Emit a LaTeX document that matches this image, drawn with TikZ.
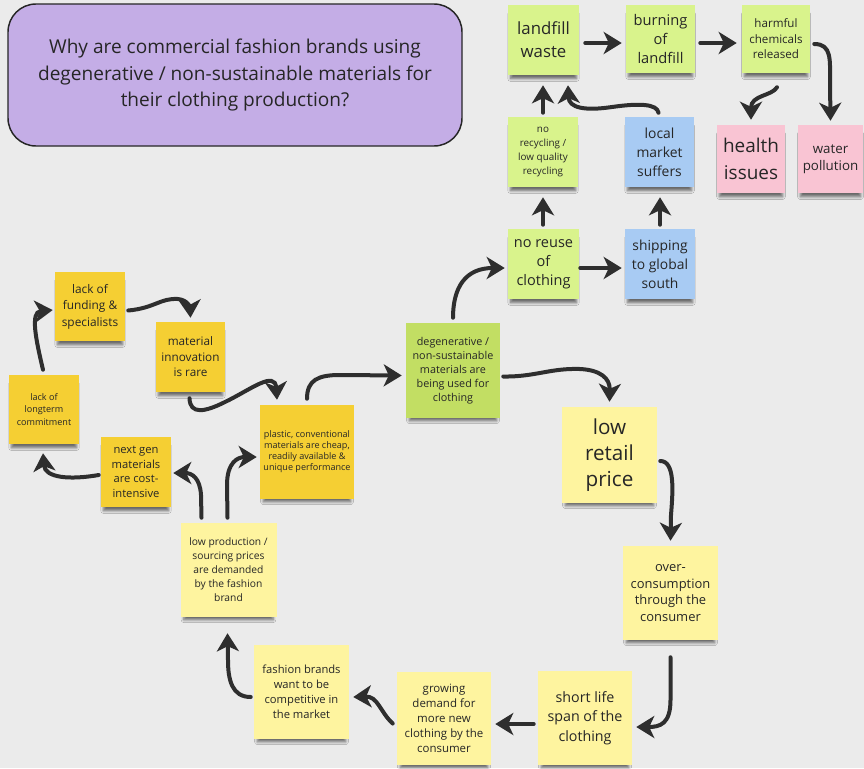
\documentclass[tikz,border=0pt]{standalone}
\usepackage{fontspec}
\setmainfont{Open Sans}
\usetikzlibrary{arrows.meta,calc,shadows.blur}

\definecolor{bgc}{HTML}{EBEBEB}
\definecolor{inkc}{HTML}{262626}
\definecolor{arrowc}{HTML}{2E2E2E}
\definecolor{lavender}{HTML}{C4ADE6}
\definecolor{mustard}{HTML}{F5CF33}
\definecolor{paleyel}{HTML}{FEF49F}
\definecolor{limeg}{HTML}{D9F38C}
\definecolor{oliveg}{HTML}{C2DE63}
\definecolor{skyb}{HTML}{A8CBF3}
\definecolor{rosep}{HTML}{F9C4D3}

\tikzset{
  note/.style={align=center, text=inkc, inner sep=0pt,
    blur shadow={shadow xshift=0pt, shadow yshift=-5pt, shadow opacity=55,
      shadow blur steps=6, shadow scale=0.93}},
  sz/.style 2 args={minimum width=#1*0.75pt, minimum height=#2*0.75pt},
  fs/.style 2 args={font=\fontsize{#1}{#2}\selectfont},
  arr/.style={draw=arrowc, line width=3pt, line cap=round,
    -{Stealth[length=13.5pt,width=16.5pt,inset=3.8pt]}},
  titlebox/.style={draw=inkc, line width=1.1pt, fill=lavender,
    rounded corners=21pt, align=center, text=inkc, inner sep=0pt},
}

\begin{document}
\begin{tikzpicture}[x=0.75pt, y=-0.75pt]
\fill[bgc] (0,0) rectangle (864,768);
\useasboundingbox (0,0) rectangle (864,768);

% question box
\node[titlebox, sz={454}{142}, fs={14.3}{19.9}] (q) at (235,75)
  {Why are commercial fashion brands using\\degenerative / non-sustainable materials for\\their clothing production?};

% consequences (top right)
\node[note, fill=limeg, sz={71}{70}, fs={12.6}{17.3}] (lw) at (543.5,40) {landfill\\waste};
\node[note, fill=limeg, sz={69}{68}, fs={11}{14.3}] (bu) at (660.5,39) {burning\\of\\landfill};
\node[note, fill=limeg, sz={68}{68}, fs={8.7}{11.6}] (hc) at (776,39) {harmful\\chemicals\\released};
\node[note, fill=limeg, sz={70}{70}, fs={7.4}{10.5}] (nr) at (543,152) {no\\recycling /\\low quality\\recycling};
\node[note, fill=skyb, sz={69}{70}, fs={10.4}{14.3}] (lm) at (659.5,152) {local\\market\\suffers};
\node[note, fill=rosep, sz={68}{68}, fs={14.2}{20}] (hi) at (751,159) {health\\issues};
\node[note, fill=rosep, sz={65}{68}, fs={10}{12.8}] (wp) at (830.5,159) {water\\pollution};
\node[note, fill=limeg, sz={71}{70}, fs={10.9}{14.3}] (nu) at (543.5,264) {no reuse\\of\\clothing};
\node[note, fill=skyb, sz={70}{70}, fs={10.4}{14.3}] (sg) at (660,264) {shipping\\to global\\south};
\node[note, fill=oliveg, sz={94}{95}, fs={8.1}{10.5}] (dg) at (453,370.5)
  {degenerative /\\non-sustainable\\materials are\\being used for\\clothing};

% consumer loop
\node[note, fill=paleyel, sz={95}{96}, fs={15.5}{19.5}] (lr) at (609.5,455) {low\\retail\\price};
\node[note, fill=paleyel, sz={95}{94}, fs={9.7}{12.5}] (oc) at (670.5,593)
  {over-\\consumption\\through the\\consumer};
\node[note, fill=paleyel, sz={94}{94}, fs={10.7}{14.6}] (sl) at (585,718) {short life\\span of the\\clothing};
\node[note, fill=paleyel, sz={94}{93}, fs={8.6}{11.3}] (gd) at (444,718.5)
  {growing\\demand for\\more new\\clothing by the\\consumer};
\node[note, fill=paleyel, sz={95}{94}, fs={8.4}{11.3}] (fb) at (301.5,692)
  {fashion brands\\want to be\\competitive in\\the market};
\node[note, fill=paleyel, sz={96}{94}, fs={7.7}{10.5}] (lp) at (228.5,570)
  {low production /\\sourcing prices\\are demanded\\by the fashion\\brand};

% material loop
\node[note, fill=mustard, sz={94}{94}, fs={6.8}{8.3}] (pc) at (307,452)
  {plastic, conventional\\materials are cheap,\\readily available \&\\unique performance};
\node[note, fill=mustard, sz={70}{70}, fs={8.4}{10.9}] (ng) at (136,472) {next gen\\materials\\are cost-\\intensive};
\node[note, fill=mustard, sz={70}{69}, fs={6.8}{9.5}] (lt) at (44,409.5) {lack of\\longterm\\commitment};
\node[note, fill=mustard, sz={70}{69}, fs={8.9}{12.4}] (lf) at (90,306.5) {lack of\\funding \&\\specialists};
\node[note, fill=mustard, sz={69}{70}, fs={8.8}{11.6}] (mi) at (190.5,357) {material\\innovation\\is rare};

% connectors
\draw[arr] ($(lw.east)+(6,3)$) -- ($(bu.west)+(-4,4)$);
\draw[arr] ($(bu.east)+(5,4)$) -- ($(hc.west)+(-5,4)$);
\draw[arr] ($(hc.east)+(4,5)$) .. controls (832,44) and (830,60) .. (830,82) -- ($(wp.north)+(0,-4)$);
\draw[arr] ($(hc.south)+(1,14)$) .. controls (772,96) and (751,95) .. ($(hi.north)+(0,-5)$);
\draw[arr] ($(nr.north)+(0,-4)$) -- ($(lw.south)+(-0.5,10)$);
\draw[arr] ($(lm.north)+(-1,-4)$) .. controls (657,104) and (640,103) .. (612,107)
  .. controls (585,111) and (569,108) .. ($(lw.south)+(24.5,10)$);
\draw[arr] ($(nu.north)+(-0.5,-4)$) -- ($(nr.south)+(0,10)$);
\draw[arr] ($(sg.north)+(0,-4)$) -- ($(lm.south)+(0.5,10)$);
\draw[arr] ($(nu.east)+(1,4)$) -- ($(sg.west)+(-3,4)$);
\draw[arr] ($(dg.north)+(0,-5)$) .. controls (453,288) and (465,268) .. ($(nu.west)+(-3,4)$);
\draw[arr] ($(dg.east)+(3,6)$) .. controls (535,377) and (550,368) .. (580,369)
  .. controls (600,370) and (610,378) .. ($(lr.north)+(0,-5)$);
\draw[arr] ($(lr.east)+(3,6)$) .. controls (675,461) and (673,490) .. (671,515) -- ($(oc.north)+(0,-5)$);
\draw[arr] ($(oc.south)+(0,17)$) -- (670.5,700) .. controls (670.5,724) and (660,727) .. ($(sl.east)+(4,9)$);
\draw[arr] ($(sl.west)+(-4,6)$) -- ($(gd.east)+(4,5.5)$);
\draw[arr] ($(gd.west)+(-4,5)$) .. controls (380,712) and (378,696) .. ($(fb.east)+(4,5)$);
\draw[arr] ($(fb.west)+(-3,5)$) .. controls (232,697) and (228,680) .. (228,660) -- ($(lp.south)+(-1,16)$);
\draw[arr] ($(lp.north)+(-27,-5)$) -- (201,495) .. controls (200,478) and (192,473) .. ($(ng.east)+(2,1)$);
\draw[arr] ($(lp.north)+(-1,-5)$) -- (227,485) .. controls (227,462) and (238,457) .. ($(pc.west)+(-3,5)$);
\draw[arr] ($(ng.west)+(-2,3)$) .. controls (70,480) and (45,478) .. ($(lt.south)+(-1,9)$);
\draw[arr] ($(lt.north)+(-1,-5)$) .. controls (36,340) and (30,312) .. ($(lf.west)+(-2,3.5)$);
\draw[arr] ($(lf.east)+(3,4)$) .. controls (155,308) and (160,298) .. (178,299)
  .. controls (188,300) and (190,308) .. ($(mi.north)+(0,-4)$);
\draw[arr] ($(mi.south)+(-1,6)$) .. controls (190,415) and (205,412) .. (225,402)
  .. controls (250,390) and (275,370) .. ($(pc.north)+(-30,-5)$);
\draw[arr] ($(pc.north)+(0,-6)$) .. controls (307,380) and (318,375) .. (340,375) -- ($(dg.west)+(-4,5)$);
\end{tikzpicture}
\end{document}
